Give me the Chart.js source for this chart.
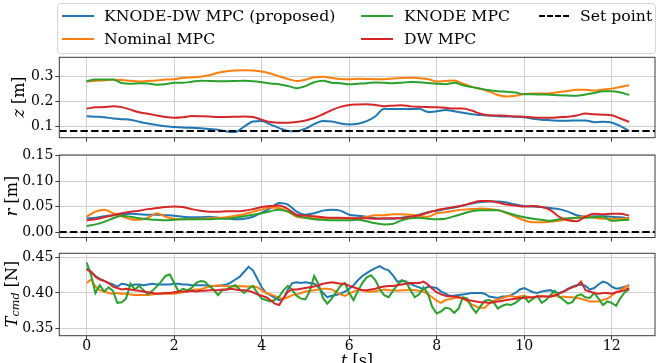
<!DOCTYPE html>
<html><head><meta charset="utf-8">
<script src="https://cdn.jsdelivr.net/npm/chart.js@4.4.0/dist/chart.umd.min.js"></script>
<style>
html,body{margin:0;padding:0;background:#fff;}
#wrap{position:relative;width:663px;height:363px;overflow:hidden;font-family:'DejaVu Serif',serif;color:#000;}
canvas{position:absolute;left:0;top:0;}
.ylab{position:absolute;white-space:nowrap;font-size:16px;line-height:18px;transform:translate(-50%,-50%) rotate(-90deg);}
.xlab{position:absolute;white-space:nowrap;font-size:16px;line-height:18px;transform:translate(-50%,0);}
#legend{position:absolute;left:57px;top:3px;width:597px;height:49px;border:1px solid #d6d6d6;border-radius:4px;background:rgba(255,255,255,0.85);}
.lg{position:absolute;height:0;width:32px;}
.lt{position:absolute;font-size:15.7px;line-height:18px;white-space:nowrap;}
sub{font-size:70%;vertical-align:-0.25em;}
</style></head><body>
<div id="wrap">
<canvas id="c1" width="663" height="363"></canvas>
<canvas id="c2" width="663" height="363"></canvas>
<canvas id="c3" width="663" height="363"></canvas>
<div id="legend"></div>
<div class="lg" style="left:62px;top:15px;border-top:2px solid #1f77b4"></div>
<div class="lt" style="left:104px;top:7px">KNODE-DW MPC (proposed)</div>
<div class="lg" style="left:62px;top:38px;border-top:2px solid #ff7f0e"></div>
<div class="lt" style="left:104px;top:30px">Nominal MPC</div>
<div class="lg" style="left:361px;top:15px;border-top:2px solid #2ca02c"></div>
<div class="lt" style="left:404px;top:7px">KNODE MPC</div>
<div class="lg" style="left:361px;top:38px;border-top:2px solid #d62728"></div>
<div class="lt" style="left:404px;top:30px">DW MPC</div>
<div class="lg" style="left:539px;top:15px;border-top:2px dashed #000;width:30px"></div>
<div class="lt" style="left:580px;top:7px">Set point</div>
<div class="ylab" style="left:19px;top:97px"><i>z</i> [m]</div>
<div class="ylab" style="left:12px;top:196px"><i>r</i> [m]</div>
<div class="ylab" style="left:14px;top:294px"><i>T</i><sub><i>cmd</i></sub> [N]</div>
<div class="xlab" style="left:357px;top:352px"><i>t</i> [s]</div>
</div>
<script>
// ---------- data ----------
const SERIES_NAMES = ['KNODE-DW MPC (proposed)', 'Nominal MPC', 'KNODE MPC', 'DW MPC', 'Set point'];
const X_TICKS = [0, 2, 4, 6, 8, 10, 12];
const X_TICK_LABELS = ['0', '2', '4', '6', '8', '10', '12'];
const Z_TICKS = [0.1, 0.2, 0.3];
const Z_TICK_LABELS = ['0.1', '0.2', '0.3'];
const R_TICKS = [0.00, 0.05, 0.10, 0.15];
const R_TICK_LABELS = ['0.00', '0.05', '0.10', '0.15'];
const T_TICKS = [0.35, 0.40, 0.45];
const T_TICK_LABELS = ['0.35', '0.40', '0.45'];
const SETPOINT_Z = 0.08;
const SETPOINT_R = 0.0;
const DT_ZR = 0.2;   // sampling of z, r arrays [s]
const DT_T = 0.1;    // sampling of T_cmd arrays [s]

// z [m], every 0.2 s from 0 to 12.4
const Z_KNODE_DW = [0.140,0.138,0.136,0.131,0.128,0.126,0.118,0.111,0.105,0.099,
  0.096,0.094,0.093,0.091,0.088,0.085,0.078,0.076,0.098,0.119,
  0.121,0.107,0.092,0.080,0.079,0.090,0.108,0.121,0.119,0.111,
  0.107,0.110,0.120,0.140,0.170,0.169,0.169,0.169,0.170,0.157,
  0.160,0.165,0.160,0.154,0.148,0.145,0.143,0.140,0.139,0.138,
  0.136,0.130,0.126,0.124,0.122,0.122,0.123,0.123,0.116,0.118,
  0.115,0.100,0.080];
const Z_NOMINAL = [0.280,0.284,0.285,0.288,0.287,0.284,0.281,0.283,0.285,0.289,
  0.290,0.296,0.298,0.300,0.306,0.316,0.322,0.325,0.326,0.325,
  0.321,0.313,0.302,0.291,0.283,0.288,0.298,0.300,0.295,0.291,
  0.290,0.292,0.291,0.290,0.290,0.293,0.295,0.296,0.294,0.291,
  0.281,0.283,0.285,0.272,0.260,0.250,0.240,0.226,0.220,0.223,
  0.230,0.232,0.232,0.233,0.238,0.242,0.247,0.247,0.244,0.248,
  0.252,0.259,0.266];
const Z_KNODE = [0.282,0.289,0.289,0.289,0.275,0.272,0.274,0.273,0.268,0.270,
  0.276,0.276,0.280,0.284,0.283,0.282,0.282,0.283,0.284,0.282,
  0.278,0.273,0.270,0.263,0.254,0.262,0.278,0.284,0.276,0.274,
  0.270,0.272,0.274,0.277,0.276,0.274,0.276,0.279,0.278,0.275,
  0.272,0.270,0.276,0.266,0.258,0.252,0.245,0.241,0.239,0.236,
  0.229,0.229,0.228,0.227,0.225,0.224,0.223,0.228,0.234,0.241,
  0.241,0.236,0.226];
const Z_DW = [0.171,0.176,0.177,0.181,0.177,0.167,0.156,0.150,0.143,0.137,
  0.134,0.136,0.141,0.140,0.139,0.137,0.137,0.138,0.139,0.137,
  0.126,0.117,0.114,0.114,0.117,0.123,0.133,0.148,0.165,0.178,
  0.186,0.188,0.189,0.186,0.181,0.183,0.185,0.180,0.178,0.177,
  0.176,0.174,0.171,0.171,0.163,0.150,0.144,0.143,0.142,0.139,
  0.138,0.135,0.134,0.134,0.136,0.138,0.143,0.151,0.148,0.146,
  0.144,0.131,0.117];

// r [m], every 0.2 s from 0 to 12.4
const R_KNODE_DW = [0.027,0.028,0.031,0.033,0.035,0.036,0.035,0.034,0.034,0.033,
  0.032,0.030,0.029,0.029,0.030,0.028,0.027,0.025,0.026,0.030,
  0.038,0.047,0.057,0.054,0.040,0.034,0.037,0.042,0.044,0.042,
  0.034,0.032,0.030,0.027,0.026,0.026,0.028,0.031,0.034,0.039,
  0.042,0.045,0.048,0.052,0.056,0.059,0.060,0.060,0.058,0.054,
  0.051,0.050,0.049,0.047,0.045,0.040,0.033,0.030,0.031,0.031,
  0.030,0.029,0.027];
const R_NOMINAL = [0.030,0.040,0.044,0.037,0.031,0.025,0.024,0.028,0.037,0.030,
  0.026,0.025,0.025,0.026,0.027,0.028,0.029,0.032,0.035,0.040,
  0.044,0.048,0.047,0.040,0.030,0.028,0.027,0.027,0.027,0.027,
  0.028,0.027,0.030,0.033,0.033,0.035,0.035,0.034,0.032,0.030,
  0.037,0.039,0.042,0.044,0.045,0.046,0.045,0.043,0.037,0.030,
  0.023,0.019,0.019,0.020,0.022,0.025,0.028,0.031,0.028,0.026,
  0.026,0.026,0.027];
const R_KNODE = [0.012,0.015,0.020,0.027,0.032,0.030,0.027,0.025,0.024,0.023,
  0.024,0.025,0.025,0.025,0.025,0.026,0.026,0.028,0.031,0.034,
  0.037,0.041,0.044,0.040,0.032,0.028,0.025,0.024,0.023,0.023,
  0.023,0.024,0.021,0.017,0.015,0.016,0.023,0.027,0.028,0.026,
  0.025,0.026,0.031,0.036,0.041,0.043,0.043,0.043,0.038,0.033,
  0.029,0.026,0.024,0.022,0.025,0.027,0.028,0.028,0.029,0.030,
  0.022,0.023,0.024];
const R_DW = [0.023,0.025,0.029,0.033,0.037,0.040,0.042,0.045,0.047,0.049,
  0.050,0.049,0.045,0.042,0.040,0.040,0.041,0.041,0.042,0.045,
  0.049,0.051,0.052,0.045,0.034,0.032,0.031,0.029,0.028,0.028,
  0.027,0.027,0.027,0.026,0.027,0.027,0.027,0.030,0.033,0.038,
  0.043,0.046,0.049,0.052,0.057,0.061,0.061,0.058,0.054,0.052,
  0.050,0.051,0.049,0.043,0.030,0.023,0.021,0.030,0.036,0.035,
  0.036,0.036,0.032];

// T_cmd [N], every 0.1 s from 0 to 12.4
const T_KNODE_DW = [0.435,0.430,0.424,0.420,0.417,0.414,0.412,0.409,0.413,0.412,
  0.410,0.412,0.412,0.411,0.412,0.413,0.412,0.412,0.412,0.412,
  0.413,0.413,0.412,0.412,0.411,0.411,0.411,0.411,0.410,0.410,
  0.410,0.411,0.412,0.415,0.419,0.423,0.430,0.437,0.432,0.420,
  0.408,0.400,0.397,0.393,0.390,0.392,0.405,0.414,0.415,0.414,
  0.415,0.414,0.413,0.408,0.400,0.394,0.396,0.397,0.399,0.402,
  0.406,0.411,0.418,0.424,0.428,0.432,0.435,0.438,0.434,0.432,
  0.425,0.416,0.417,0.416,0.413,0.410,0.408,0.405,0.409,0.408,
  0.407,0.402,0.399,0.396,0.396,0.397,0.398,0.399,0.400,0.400,
  0.400,0.399,0.395,0.394,0.393,0.395,0.395,0.397,0.400,0.405,
  0.407,0.404,0.401,0.400,0.402,0.403,0.404,0.401,0.400,0.402,
  0.406,0.409,0.411,0.412,0.410,0.405,0.407,0.412,0.416,0.414,
  0.409,0.406,0.407,0.409,0.411];
const T_NOMINAL = [0.414,0.419,0.409,0.404,0.402,0.400,0.399,0.400,0.399,0.399,
  0.398,0.397,0.397,0.397,0.397,0.398,0.399,0.400,0.399,0.399,
  0.399,0.400,0.401,0.402,0.404,0.405,0.405,0.407,0.409,0.410,
  0.411,0.410,0.410,0.409,0.409,0.410,0.409,0.409,0.409,0.408,
  0.404,0.400,0.398,0.396,0.393,0.392,0.394,0.397,0.398,0.400,
  0.402,0.403,0.404,0.405,0.406,0.406,0.405,0.402,0.398,0.396,
  0.399,0.402,0.404,0.404,0.402,0.402,0.402,0.404,0.405,0.404,
  0.404,0.403,0.404,0.404,0.405,0.404,0.403,0.402,0.398,0.394,
  0.389,0.386,0.390,0.391,0.393,0.394,0.393,0.388,0.384,0.381,
  0.379,0.379,0.385,0.389,0.391,0.393,0.395,0.396,0.394,0.395,
  0.396,0.394,0.393,0.395,0.396,0.395,0.394,0.398,0.394,0.395,
  0.394,0.394,0.393,0.392,0.390,0.388,0.388,0.388,0.390,0.392,
  0.396,0.401,0.404,0.408,0.411];
const T_KNODE = [0.443,0.425,0.400,0.411,0.402,0.408,0.403,0.386,0.387,0.392,
  0.413,0.405,0.410,0.404,0.398,0.403,0.409,0.416,0.424,0.426,
  0.414,0.402,0.406,0.404,0.407,0.414,0.417,0.416,0.410,0.405,
  0.397,0.404,0.405,0.409,0.411,0.405,0.400,0.406,0.410,0.400,
  0.392,0.390,0.388,0.390,0.395,0.404,0.410,0.404,0.396,0.392,
  0.391,0.403,0.424,0.412,0.393,0.385,0.392,0.401,0.410,0.414,
  0.400,0.390,0.403,0.414,0.422,0.425,0.418,0.405,0.397,0.394,
  0.403,0.411,0.418,0.416,0.404,0.394,0.398,0.408,0.399,0.380,
  0.371,0.374,0.379,0.378,0.372,0.378,0.394,0.392,0.380,0.372,
  0.381,0.389,0.390,0.387,0.378,0.382,0.384,0.383,0.386,0.391,
  0.395,0.387,0.392,0.396,0.386,0.390,0.397,0.403,0.395,0.390,
  0.385,0.387,0.396,0.398,0.394,0.393,0.400,0.392,0.383,0.388,
  0.386,0.382,0.393,0.401,0.405];
const T_DW = [0.433,0.430,0.423,0.419,0.417,0.414,0.409,0.407,0.405,0.406,
  0.405,0.404,0.403,0.402,0.401,0.400,0.399,0.399,0.400,0.400,
  0.401,0.402,0.402,0.402,0.403,0.402,0.403,0.403,0.404,0.404,
  0.404,0.405,0.405,0.406,0.405,0.404,0.404,0.403,0.401,0.398,
  0.396,0.394,0.390,0.385,0.383,0.393,0.402,0.405,0.405,0.406,
  0.407,0.408,0.409,0.411,0.413,0.414,0.415,0.414,0.413,0.413,
  0.410,0.408,0.406,0.404,0.404,0.405,0.406,0.408,0.409,0.410,
  0.410,0.411,0.412,0.413,0.414,0.414,0.414,0.416,0.412,0.406,
  0.401,0.398,0.396,0.395,0.395,0.394,0.392,0.390,0.389,0.388,
  0.387,0.387,0.386,0.387,0.388,0.389,0.390,0.391,0.392,0.393,
  0.393,0.394,0.394,0.395,0.395,0.395,0.395,0.396,0.399,0.402,
  0.405,0.408,0.410,0.416,0.404,0.402,0.400,0.399,0.400,0.400,
  0.399,0.401,0.402,0.404,0.407];

// ---------- layout / style ----------
const COLORS = ['#1f77b4', '#ff7f0e', '#2ca02c', '#d62728', '#000000'];
const X_MIN = -0.626, X_MAX = 12.99;
const AREA_LEFT = 59.3, AREA_RIGHT = 655;
const XH = 20;
const GRID = '#cfcfcf';
const SPINE = '#3a3a3a';

Chart.defaults.font.family = "'DejaVu Serif', serif";
Chart.defaults.font.size = 14;
Chart.defaults.color = '#000';

const framePlugin = {
  id: 'frame',
  afterDraw(chart) {
    const a = chart.chartArea, ctx = chart.ctx;
    ctx.save();
    ctx.strokeStyle = SPINE;
    ctx.lineWidth = 1;
    ctx.strokeRect(a.left, a.top, a.right - a.left, a.bottom - a.top);
    ctx.restore();
  }
};

function series(values, dt) {
  return values.map((v, i) => ({ x: Math.round(i * dt * 100) / 100, y: v }));
}

function makePanel(id, top, bottom, yMin, yMax, yTicks, yLabels, lists, dt, setpoint, showX, smooth) {
  const datasets = lists.map((vals, i) => ({
    label: SERIES_NAMES[i],
    data: series(vals, dt),
    borderColor: COLORS[i],
    borderWidth: 2,
    pointRadius: 0,
    fill: false,
    tension: smooth ? 0.35 : 0,
    cubicInterpolationMode: smooth ? 'monotone' : 'default',
    order: 10 - i
  }));
  if (setpoint !== null) {
    datasets.push({
      label: SERIES_NAMES[4],
      data: [{ x: X_MIN, y: setpoint }, { x: X_MAX, y: setpoint }],
      borderColor: COLORS[4],
      borderWidth: 2,
      borderDash: [7.4, 3.2],
      pointRadius: 0,
      fill: false,
      order: 1
    });
  }
  return new Chart(document.getElementById(id), {
    type: 'line',
    data: { datasets },
    plugins: [framePlugin],
    options: {
      responsive: false,
      animation: false,
      events: [],
      layout: { padding: { left: 0, right: 663 - AREA_RIGHT, top: top, bottom: 363 - bottom - XH } },
      plugins: { legend: { display: false }, tooltip: { enabled: false } },
      scales: {
        x: {
          type: 'linear', min: X_MIN, max: X_MAX,
          afterBuildTicks: s => { s.ticks = X_TICKS.map(v => ({ value: v })); },
          afterFit: s => { s.height = XH; },
          border: { display: false },
          grid: { color: GRID, lineWidth: 1, tickLength: 4, tickColor: SPINE, tickWidth: 1 },
          ticks: { display: showX, autoSkip: false, maxRotation: 0, padding: 0,
                   font: { size: 14, lineHeight: 1.0 },
                   callback: (v, i) => X_TICK_LABELS[i] }
        },
        y: {
          type: 'linear', min: yMin, max: yMax,
          afterBuildTicks: s => { s.ticks = yTicks.map(v => ({ value: v })); },
          afterFit: s => { s.width = AREA_LEFT; },
          border: { display: false },
          grid: { color: GRID, lineWidth: 1, tickLength: 4, tickColor: SPINE, tickWidth: 1 },
          ticks: { padding: 2, font: { size: 14 }, callback: (v, i) => yLabels[i] }
        }
      }
    }
  });
}

makePanel('c1', 57.3, 137.7, 0.053, 0.379, Z_TICKS, Z_TICK_LABELS,
  [Z_KNODE_DW, Z_NOMINAL, Z_KNODE, Z_DW], DT_ZR, SETPOINT_Z, false, true);
makePanel('c2', 155, 237.5, -0.0108, 0.1514, R_TICKS, R_TICK_LABELS,
  [R_KNODE_DW, R_NOMINAL, R_KNODE, R_DW], DT_ZR, SETPOINT_R, false, true);
makePanel('c3', 253.3, 335.7, 0.3397, 0.456, T_TICKS, T_TICK_LABELS,
  [T_KNODE_DW, T_NOMINAL, T_KNODE, T_DW], DT_T, null, true, false);
</script>
</body></html>
